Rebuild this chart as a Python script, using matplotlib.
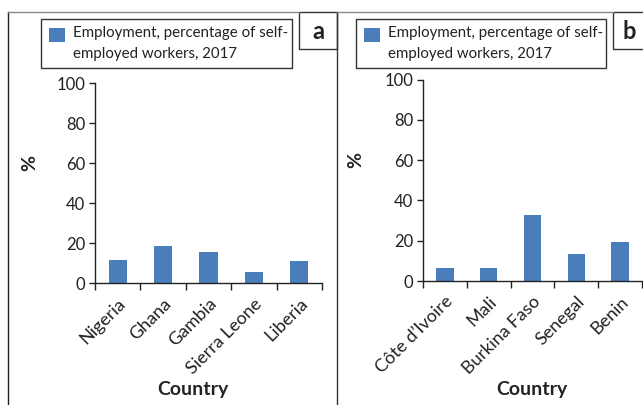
import matplotlib
matplotlib.use("Agg")
import matplotlib.pyplot as plt
from matplotlib.lines import Line2D
from matplotlib.patches import Rectangle

plt.rcParams['font.family'] = ['Lato', 'DejaVu Sans']

# Self-employed workers (% of employment), 2017
countries_a = ["Nigeria", "Ghana", "Gambia", "Sierra Leone", "Liberia"]
values_a = [11.5, 18.5, 15.7, 5.5, 11.0]

countries_b = ["Côte d’Ivoire", "Mali", "Burkina Faso", "Senegal", "Benin"]
values_b = [6.3, 6.5, 32.7, 13.4, 19.3]

legend_label = "Employment, percentage of self-\nemployed workers, 2017"
yticks = [0, 20, 40, 60, 80, 100]

BAR = "#4A7EBB"
W, H = 643, 405

fig = plt.figure(figsize=(W / 100, H / 100), dpi=100)


def px(x, y):
    # pixel coords (origin top-left) -> figure fraction
    return x / W, 1 - y / H


def fline(x0, y0, x1, y1, color="#444444", lw=1.0):
    (a, b), (c, d) = px(x0, y0), px(x1, y1)
    fig.add_artist(Line2D([a, c], [b, d], color=color, lw=lw,
                          transform=fig.transFigure))


def frect(x0, y0, x1, y1, **kw):
    a, b = px(x0, y1)
    r = Rectangle((a, b), (x1 - x0) / W, (y1 - y0) / H,
                  transform=fig.transFigure, **kw)
    fig.add_artist(r)
    return r


def letter_box(x0, y0, x1, y1, s):
    frect(x0, y0, x1, y1, fill=False, edgecolor="#333333", lw=1.0)
    cx, cy = px((x0 + x1) / 2, (y0 + y1) / 2 + 1)
    fig.text(cx, cy, s, ha="center", va="center", fontsize=17,
             fontweight="bold", color="#222222")


def legend_box(x0, y0, x1, y1):
    # boxed key: swatch beside the first line of a two-line label
    frect(x0, y0, x1, y1, fill=False, edgecolor="#333333", lw=1.0)
    frect(x0 + 8, y0 + 9, x0 + 24, y0 + 23, facecolor=BAR, edgecolor="none")
    tx, ty = px(x0 + 32, y0 + 7)
    fig.text(tx, ty, legend_label, ha="left", va="top", fontsize=10.8,
             linespacing=1.6, color="#222222")


def panel(rect, names, vals, pct_xy, country_xy):
    ax = fig.add_axes(rect)
    x = list(range(len(names)))
    ax.bar(x, vals, width=0.4, color=BAR)
    ax.set_xlim(-0.5, len(names) - 0.5)
    ax.set_ylim(0, 100)
    ax.set_yticks(yticks)
    ax.tick_params(axis="y", length=4, width=1, labelsize=12, pad=3,
                   colors="#222222")
    ax.set_xticks(x)
    ax.set_xticklabels(names, rotation=45, ha="right",
                       rotation_mode="anchor", fontsize=13, color="#222222")
    ax.tick_params(axis="x", which="major", length=0, pad=9)
    ax.set_xticks([i - 0.5 for i in range(len(names) + 1)], minor=True)
    ax.tick_params(axis="x", which="minor", length=5, width=1,
                   color="#222222")
    for s in ("top", "right"):
        ax.spines[s].set_visible(False)
    for s in ("left", "bottom"):
        ax.spines[s].set_linewidth(1)
        ax.spines[s].set_color("#222222")
    ax.set_facecolor("none")

    cx, cy = px(*pct_xy)
    fig.text(cx, cy, "%", rotation=90, ha="center", va="center",
             fontsize=14, fontweight="bold", color="#222222")
    cx, cy = px(*country_xy)
    fig.text(cx, cy, "Country", ha="center", va="center",
             fontsize=14, fontweight="bold", color="#222222")
    return ax


panel([95 / W, 1 - 283 / H, 227 / W, 200 / H], countries_a, values_a,
      (30, 163), (193, 390))
panel([423 / W, 1 - 281 / H, 219 / W, 201.5 / H], countries_b, values_b,
      (356, 160), (532, 389))

# panel frames, keys and letter boxes
fline(8, 12, 8, 405, color="#222222")
fline(8, 12, 299, 12, color="#888888")
fline(337, 12, 337, 405, color="#333333")
fline(337, 12, 613, 12, color="#888888")
legend_box(41, 19, 292, 68)
legend_box(356, 19, 606, 68)
letter_box(299, 12, 337, 49, "a")
letter_box(613, 12, 646, 49, "b")

fig.savefig("out.png", dpi=100)
